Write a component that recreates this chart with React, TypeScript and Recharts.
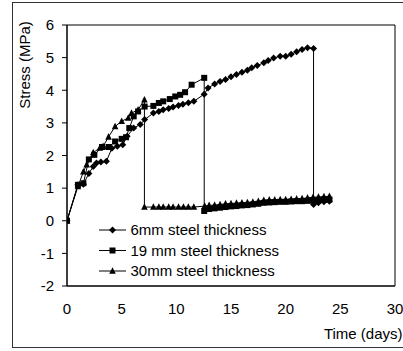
import React from 'react';
import { LineChart, Line, XAxis, YAxis, ReferenceArea, Legend, Label } from 'recharts';

const days6 = [0, 1, 1.5, 2, 2.4, 2.7, 3.1, 3.6, 4.1, 4.6, 5.1, 5.5, 6.1, 6.7, 7.1, 7.9, 8.4, 8.8, 9.3, 9.7, 10.2, 10.6, 11.1, 11.6, 12.55, 12.9, 13.5, 14, 14.5, 15, 15.5, 16, 16.5, 16.9, 17.4, 18, 18.4, 18.9, 19.5, 20, 20.5, 21, 21.5, 22, 22.55, 22.55, 23, 23.5, 24];
const stress6 = [0, 1.1, 1.12, 1.45, 1.66, 1.77, 1.8, 1.82, 2.22, 2.28, 2.33, 2.59, 2.84, 2.95, 3.1, 3.3, 3.35, 3.4, 3.44, 3.49, 3.53, 3.57, 3.62, 3.66, 3.88, 4.07, 4.19, 4.27, 4.33, 4.41, 4.48, 4.55, 4.61, 4.69, 4.76, 4.84, 4.91, 4.99, 5.04, 5.04, 5.1, 5.18, 5.25, 5.3, 5.28, 0.5, 0.55, 0.58, 0.6];

const days19 = [0, 1, 1.5, 2, 2.5, 3.2, 3.8, 4.4, 5, 5.4, 5.7, 6.1, 6.5, 7.1, 7.9, 8.4, 8.8, 9.4, 9.9, 10.35, 10.8, 11.4, 12.55, 12.55, 13, 13.5, 14, 14.5, 15, 15.5, 16, 16.5, 17, 17.5, 18, 18.5, 19, 19.5, 20, 20.5, 21, 21.5, 22, 22.5, 23, 23.5, 24];
const stress19 = [0, 1.1, 1.15, 1.88, 2.02, 2.26, 2.26, 2.43, 2.51, 2.56, 2.84, 3.2, 3.35, 3.5, 3.52, 3.61, 3.66, 3.73, 3.81, 3.86, 3.94, 4.17, 4.38, 0.3, 0.36, 0.38, 0.4, 0.42, 0.44, 0.45, 0.47, 0.48, 0.5, 0.52, 0.55, 0.56, 0.57, 0.58, 0.58, 0.59, 0.6, 0.6, 0.61, 0.62, 0.63, 0.64, 0.65];

const days30 = [0, 1, 1.5, 1.8, 2.4, 3, 3.3, 3.8, 4.4, 5, 5.6, 5.9, 6.5, 7.08, 7.08, 7.9, 8.4, 8.8, 9.3, 9.7, 10.2, 10.65, 11.1, 11.6, 12.6, 13, 13.5, 14, 14.5, 15, 15.5, 16, 16.5, 17, 17.5, 18, 18.5, 19, 19.5, 20, 20.5, 21, 21.5, 22, 22.5, 23, 23.5, 24];
const stress30 = [0, 1.05, 1.5, 1.72, 2.09, 2.23, 2.28, 2.57, 2.89, 3.05, 3.15, 3.3, 3.4, 3.71, 0.42, 0.42, 0.42, 0.42, 0.42, 0.42, 0.42, 0.42, 0.42, 0.42, 0.45, 0.47, 0.48, 0.5, 0.52, 0.53, 0.54, 0.55, 0.56, 0.57, 0.6, 0.63, 0.64, 0.64, 0.65, 0.65, 0.66, 0.67, 0.68, 0.7, 0.72, 0.73, 0.74, 0.75];

const xTicks = [0, 5, 10, 15, 20, 25, 30];
const yTicks = [-2, -1, 0, 1, 2, 3, 4, 5, 6];
const seriesNames = ['6mm steel thickness', '19 mm steel thickness', '30mm steel thickness'];
const xTitle = 'Time (days)';
const yTitle = 'Stress (MPa)';

const zip = (xs: number[], ys: number[]) => xs.map((x, i) => ({ x, y: ys[i] }));
const data6 = zip(days6, stress6);
const data19 = zip(days19, stress19);
const data30 = zip(days30, stress30);

const FONT = '"Liberation Sans", Arial, sans-serif';

const Diamond = ({ cx, cy, s = 3.5 }: any) => (
  <polygon points={`${cx},${cy - s} ${cx + s},${cy} ${cx},${cy + s} ${cx - s},${cy}`} fill="#000" />
);
const Square = ({ cx, cy, s = 3 }: any) => (
  <rect x={cx - s} y={cy - s} width={2 * s} height={2 * s} fill="#000" />
);
const Triangle = ({ cx, cy, s = 3.3 }: any) => (
  <polygon points={`${cx},${cy - s * 1.15} ${cx + s},${cy + s * 0.85} ${cx - s},${cy + s * 0.85}`} fill="#000" />
);

const shapeList = [Diamond, Square, Triangle];

const makeDot = (Shape: any) => (props: any) => {
  const { cx, cy, index } = props;
  if (cx == null || cy == null) return <g key={index} />;
  return <Shape key={index} cx={cx} cy={cy} />;
};

const LegendContent = () => {
  return (
    <svg width={200} height={64} style={{ display: 'block', overflow: 'visible' }}>
      {seriesNames.map((name, i) => {
        const Shape = shapeList[i];
        const y = 10 + i * 20.5;
        return (
          <g key={i}>
            <line x1={0} x2={27} y1={y} y2={y} stroke="#000" strokeWidth={1} />
            <Shape cx={13.5} cy={y} />
            <text x={31.5} y={y + 5.4} fontSize={15} fontFamily={FONT} fill="#000">
              {name}
            </text>
          </g>
        );
      })}
    </svg>
  );
};

export default function App() {
  return (
    <div style={{ position: 'absolute', left: 0, top: 0, width: 403, height: 351, background: '#fff', overflow: 'hidden' }}>
      <div
        style={{
          position: 'absolute',
          left: 12,
          top: 2,
          width: 400,
          height: 346,
          border: '1.5px solid #333',
          boxSizing: 'border-box',
        }}
      />
      <div style={{ position: 'absolute', left: 0, top: 0 }}>
        <LineChart width={403} height={351} margin={{ top: 25, right: 8, left: 17, bottom: 5 }}>
          <ReferenceArea x1={0} x2={30} y1={-2} y2={6} fill="none" stroke="#000" strokeWidth={1} ifOverflow="visible" />
          <XAxis
            type="number"
            dataKey="x"
            domain={[0, 30]}
            ticks={xTicks}
            allowDataOverflow
            height={60}
            tickSize={0}
            tickLine={false}
            tickMargin={17}
            axisLine={{ stroke: '#000' }}
            tick={{ fontSize: 15, fontFamily: FONT, fill: '#000' }}
            interval={0}
          >
            <Label
              content={(p: any) => {
                const vb = p.viewBox || { x: 67, y: 286, width: 328, height: 60 };
                return (
                  <text x={vb.x + vb.width + 7.5} y={vb.y + 53} textAnchor="end" fontSize={15} fontFamily={FONT} fill="#000">
                    {xTitle}
                  </text>
                );
              }}
            />
          </XAxis>
          <YAxis
            type="number"
            domain={[-2, 6]}
            ticks={yTicks}
            allowDataOverflow
            width={50}
            tickSize={5}
            tickMargin={8}
            tickLine={{ stroke: '#000' }}
            axisLine={{ stroke: '#000' }}
            tick={{ fontSize: 15, fontFamily: FONT, fill: '#000' }}
            interval={0}
          >
            <Label
              content={(p: any) => {
                const vb = p.viewBox || { x: 17, y: 25, width: 50, height: 261 };
                const x = vb.x + 13.3;
                const y = vb.y + 40;
                return (
                  <text x={x} y={y} transform={`rotate(-90, ${x}, ${y})`} textAnchor="middle" fontSize={15} fontFamily={FONT} fill="#000">
                    {yTitle}
                  </text>
                );
              }}
            />
          </YAxis>
          <Legend
            layout="horizontal"
            verticalAlign="middle"
            align="center"
            content={LegendContent}
            wrapperStyle={{ position: 'absolute', left: 99, top: 220, width: 200, height: 64 }}
          />
          <Line data={data6} dataKey="y" name={seriesNames[0]} stroke="#000" strokeWidth={1} dot={makeDot(Diamond)} activeDot={false} isAnimationActive={false} type="linear" />
          <Line data={data19} dataKey="y" name={seriesNames[1]} stroke="#000" strokeWidth={1} dot={makeDot(Square)} activeDot={false} isAnimationActive={false} type="linear" />
          <Line data={data30} dataKey="y" name={seriesNames[2]} stroke="#000" strokeWidth={1} dot={makeDot(Triangle)} activeDot={false} isAnimationActive={false} type="linear" />
        </LineChart>
      </div>
    </div>
  );
}
